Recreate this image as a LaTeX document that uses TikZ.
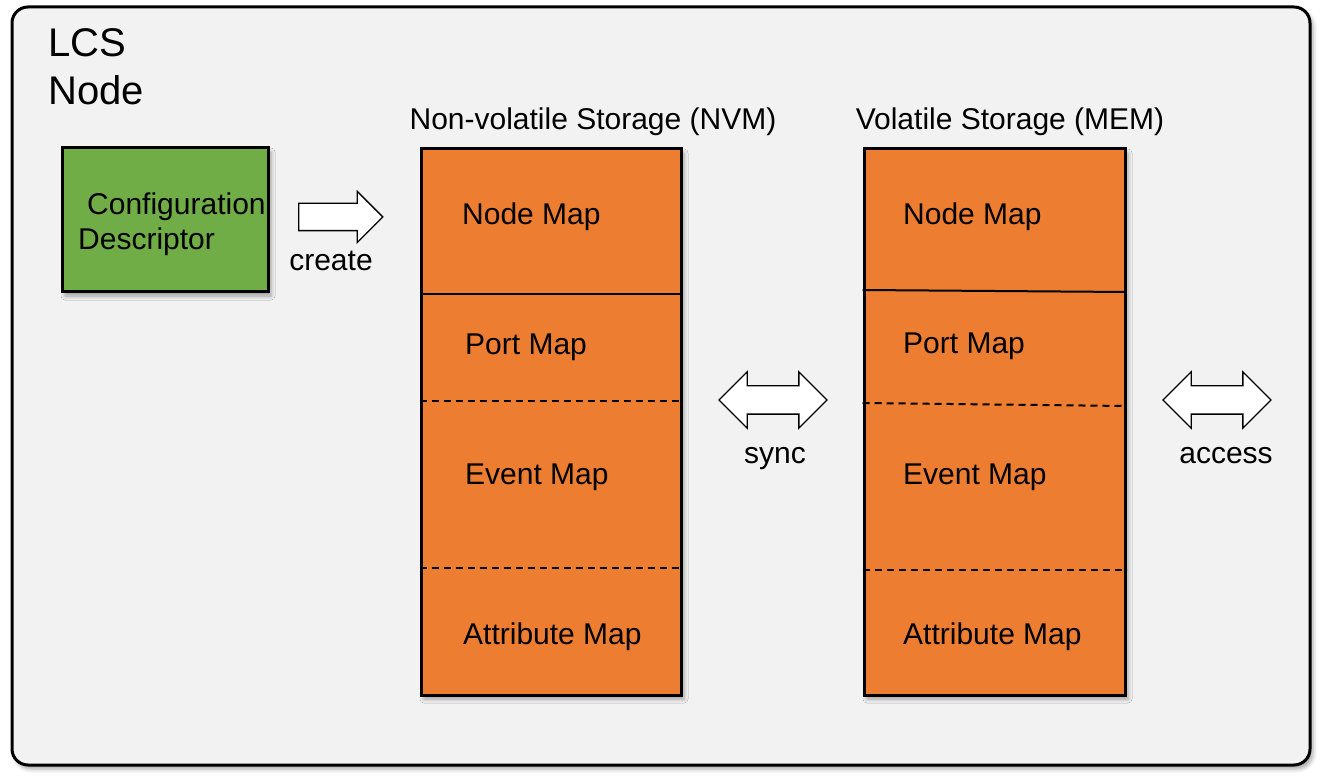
\documentclass[tikz,border=0pt]{standalone}
\usepackage{fontspec}
\setmainfont{Liberation Sans}
\usetikzlibrary{positioning, shapes.arrows, shadows.blur}

\definecolor{panelgray}{HTML}{F2F2F2}
\definecolor{descgreen}{HTML}{70AD47}
\definecolor{maporange}{HTML}{ED7D31}

\begin{document}
\begin{tikzpicture}[
  x=1pt, y=-1pt,
  boxshadow/.style={blur shadow={shadow xshift=3pt, shadow yshift=-4pt, shadow blur radius=4pt, shadow opacity=35}},
  panel/.style={draw, line width=3pt, rounded corners=16pt, fill=panelgray, inner sep=0pt, boxshadow},
  descbox/.style={draw, line width=3pt, fill=descgreen, minimum width=206pt, minimum height=144pt, inner sep=0pt, boxshadow},
  storebox/.style={draw, line width=3pt, fill=maporange, minimum width=260pt, minimum height=546pt, inner sep=0pt, boxshadow},
  txt/.style={inner sep=0pt, font=\fontsize{30}{35}\selectfont},
  maplabel/.style={txt, anchor=base west},
  bigarrow/.style={draw, line width=1.3pt, fill=white, inner xsep=0pt, inner ysep=13pt, shape=single arrow, single arrow head extend=12pt, minimum width=50pt, minimum height=84pt},
  dblarrow/.style={draw, line width=1.3pt, fill=white, inner xsep=0pt, inner ysep=13.5pt, shape=double arrow, double arrow head extend=14pt, minimum width=55pt, minimum height=108pt},
  hardsep/.style={line width=2pt},
  softsep/.style={line width=2pt, dash pattern=on 7pt off 5pt}
]
\useasboundingbox (0,0) rectangle (1320,783);

% outer frame
\node[panel, minimum width=1298pt, minimum height=758pt] (Frame) at (661,386) {};
\node[txt, font=\fontsize{40}{48}\selectfont, align=left, anchor=base west] (LCS) at (48,105) {LCS\\Node};

% descriptor
\node[descbox] (Desc) at (165,220) {};
\node[txt, align=left, anchor=base west] (DescText) at (78,250) {\hspace*{9pt}Configuration\\Descriptor};

\node[bigarrow] (CreateArr) at (334,217) {};
\node[txt, anchor=base] (CreateLbl) at (331,271) {create};

% storages
\node[storebox] (NVM) at (551,422) {};
\node[storebox, minimum width=261pt] (MEM) at (994.5,422) {};

\node[txt, above=12pt of NVM, xshift=42pt] (NVMTitle) {Non-volatile Storage (NVM)};
\node[txt, above=12pt of MEM, xshift=15.5pt] (MEMTitle) {Volatile Storage (MEM)};

\foreach \ya/\yb/\sty in {294/294/hardsep, 401/401/softsep, 568/568/softsep}
  \draw[\sty] (NVM.west |- 0,\ya) -- (NVM.east |- 0,\yb);
\foreach \ya/\yb/\sty in {290/292/hardsep, 403/406/softsep, 570/570/softsep}
  \draw[\sty] (MEM.west |- 0,\ya) -- (MEM.east |- 0,\yb);

\node[maplabel] (NVMNode) at (462,225) {Node Map};
\node[maplabel] (NVMPort) at (465,355) {Port Map};
\node[maplabel] (NVMEvent) at (465,484) {Event Map};
\node[maplabel] (NVMAttr) at (463,644) {Attribute Map};

\node[maplabel] (MEMNode) at (903,225) {Node Map};
\node[maplabel] (MEMPort) at (903,354) {Port Map};
\node[maplabel] (MEMEvent) at (903,484) {Event Map};
\node[maplabel] (MEMAttr) at (903,644) {Attribute Map};

% sync / access
\node[dblarrow] (SyncArr) at (773,400) {};
\node[txt, anchor=base] (SyncLbl) at (775,463) {sync};
\node[dblarrow] (AccessArr) at (1217,400) {};
\node[txt, anchor=base] (AccessLbl) at (1226,463) {access};
\end{tikzpicture}
\end{document}
